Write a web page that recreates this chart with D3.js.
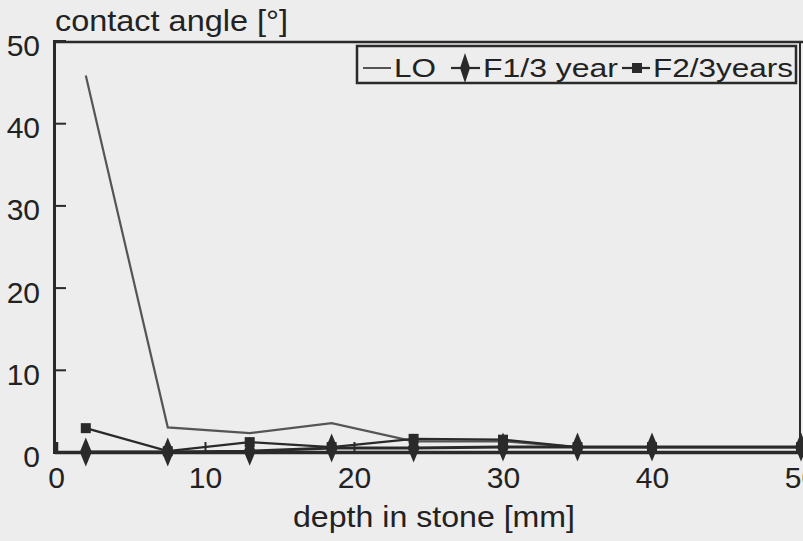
<!DOCTYPE html>
<html><head><meta charset="utf-8">
<script src="https://cdn.jsdelivr.net/npm/d3@7"></script>
<style>
body{margin:0;background:#ededed;}
svg{display:block;}
text{font-family:"Liberation Sans",Arial,sans-serif;fill:#222;}
</style></head><body>
<svg id="c" width="803" height="541"></svg>
<script>
const depth = [2, 7.5, 13, 18.5, 24, 30, 35, 40, 50];
const seriesNames = ["LO", "F1/3 year", "F2/3years"];
const LO = [45.8, 3.0, 2.3, 3.5, 1.3, 1.3, 0.6, 0.6, 0.6];
const F1 = [0, 0, 0.1, 0.5, 0.5, 0.6, 0.6, 0.6, 0.6];
const F2 = [2.9, 0.1, 1.2, 0.6, 1.6, 1.5, 0.6, 0.6, 0.6];
const xTicks = [0, 10, 20, 30, 40, 50];
const yTicks = [0, 10, 20, 30, 40, 50];

const svg = d3.select("#c");
svg.append("rect").attr("width",803).attr("height",541).attr("fill","#ededed");
const x = d3.scaleLinear().domain([0,50]).range([56,801]);
const y = d3.scaleLinear().domain([0,50]).range([452,41]);
const ink = "#2a2a2a";

// frame top & right
svg.append("line").attr("x1",54).attr("x2",803).attr("y1",42).attr("y2",42).attr("stroke",ink).attr("stroke-width",2.5);
svg.append("line").attr("x1",800).attr("x2",800).attr("y1",42).attr("y2",452).attr("stroke",ink).attr("stroke-width",2);

// axes
const yAxis = d3.axisLeft(y).tickValues(yTicks).tickSize(-12).tickPadding(14).tickFormat(d3.format("d"));
const gy = svg.append("g").attr("transform","translate(54,0)").call(yAxis);
gy.select(".domain").attr("stroke",ink).attr("stroke-width",3);
gy.selectAll(".tick line").attr("stroke",ink).attr("stroke-width",2);
gy.selectAll(".tick text").attr("font-size",30).attr("fill","#222").attr("dy","0.48em");
gy.selectAll(".tick").filter(d=>d===0 || d===50).select("line").remove();

const xAxis = d3.axisBottom(x).tickValues(xTicks).tickSize(-10).tickPadding(15).tickFormat(d3.format("d"));
const gx = svg.append("g").attr("transform","translate(0,452)").call(xAxis);
gx.select(".domain").attr("stroke",ink).attr("stroke-width",3.5);
gx.selectAll(".tick line").attr("stroke",ink).attr("stroke-width",2);
gx.selectAll(".tick text").attr("font-size",30).attr("fill","#222");
gx.selectAll(".tick").filter(d=>d===0 || d===50).select("line").remove();

// titles
svg.append("text").attr("x",55).attr("y",31).attr("font-size",29)
  .attr("textLength",233).attr("lengthAdjust","spacingAndGlyphs").text("contact angle [°]");
svg.append("text").attr("x",293).attr("y",527).attr("font-size",29)
  .attr("textLength",282).attr("lengthAdjust","spacingAndGlyphs").text("depth in stone [mm]");

const line = d3.line().x((d,i)=>x(depth[i])).y(d=>y(d));
const diamond = (cx,cy,w,h)=>`M${cx},${cy-h/2}L${cx+w/2},${cy}L${cx},${cy+h/2}L${cx-w/2},${cy}Z`;

// LO
svg.append("path").datum(LO).attr("d",line).attr("fill","none").attr("stroke","#555").attr("stroke-width",2.2);
// F2
svg.append("path").datum(F2).attr("d",line).attr("fill","none").attr("stroke",ink).attr("stroke-width",2.2);
svg.selectAll(".sq").data(F2).enter().append("rect")
  .attr("x",(d,i)=>x(depth[i])-5).attr("y",d=>y(d)-5).attr("width",10).attr("height",10).attr("fill",ink);
// F1
svg.append("path").datum(F1).attr("d",line).attr("fill","none").attr("stroke",ink).attr("stroke-width",3);
svg.selectAll(".dm").data(F1).enter().append("path")
  .attr("d",(d,i)=>diamond(x(depth[i]),y(d),12,29)).attr("fill",ink);

// legend
const lg = svg.append("g");
lg.append("rect").attr("x",357).attr("y",46).attr("width",439).attr("height",37).attr("fill","#ededed").attr("stroke",ink).attr("stroke-width",2.5);
const ly = 68;
lg.append("line").attr("x1",363).attr("x2",391).attr("y1",ly).attr("y2",ly).attr("stroke","#555").attr("stroke-width",2);
lg.append("text").attr("x",394).attr("y",ly+9).attr("font-size",26)
  .attr("textLength",42).attr("lengthAdjust","spacingAndGlyphs").text(seriesNames[0]);
lg.append("line").attr("x1",451).attr("x2",480).attr("y1",ly).attr("y2",ly).attr("stroke",ink).attr("stroke-width",2.2);
lg.append("path").attr("d",diamond(465,ly,10,30)).attr("fill",ink);
lg.append("text").attr("x",483).attr("y",ly+9).attr("font-size",26)
  .attr("textLength",135).attr("lengthAdjust","spacingAndGlyphs").text(seriesNames[1]);
lg.append("line").attr("x1",622).attr("x2",650).attr("y1",ly).attr("y2",ly).attr("stroke",ink).attr("stroke-width",2.2);
lg.append("rect").attr("x",632).attr("y",ly-5).attr("width",10).attr("height",10).attr("fill",ink);
lg.append("text").attr("x",653).attr("y",ly+9).attr("font-size",26)
  .attr("textLength",140).attr("lengthAdjust","spacingAndGlyphs").text(seriesNames[2]);
</script></body></html>
